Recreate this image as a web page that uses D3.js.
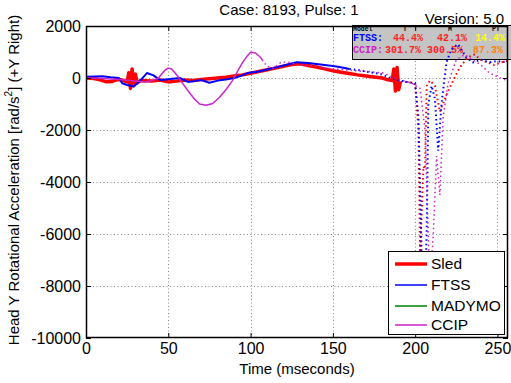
<!DOCTYPE html>
<html>
<head>
<meta charset="utf-8">
<script src="https://cdn.jsdelivr.net/npm/d3@7"></script>
<style>
  body { margin: 0; background: #fff; }
  svg { display: block; font-family: "Liberation Sans", Arial, sans-serif; }
</style>
</head>
<body>
<svg id="chart" width="511" height="383"></svg>
<script>
// ---- data (time in ms, head Y rotational acceleration in rad/s^2) ----
var xTicks = [0, 50, 100, 150, 200, 250];
var yTicks = [-10000, -8000, -6000, -4000, -2000, 0, 2000];

// Sled: solid part, then the dotted tail
var sledSolid = [[0,0],[5,-20],[9,-80],[12,-140],[16,-130],[19,-60],[22,-80],[25,-150],[26,200],[27,-400],[28,350],[29,-300],[30,150],[31,-200],[33,-100],
  [40,-120],[45,-80],[50,-150],[55,-120],[60,-80],[65,-100],[70,-60],[75,-30],[80,0],[85,30],[90,80],[95,120],[100,180],[105,250],[110,320],[115,380],
  [120,450],[125,520],[130,550],[135,480],[140,420],[145,350],[150,280],[155,220],[160,170],[165,120],[170,80],[175,40],[180,0],[183,-60],[186,-100],
  [187,350],[188,-500],[189,400],[190,-450],[191,-150]];
var sledDotted = [[191,-150],[196,-150],[200,-250],[202,-2000],[203,-6800],[205,-3400],[206,-3500],[207,-300],[209,-100],[212,-300],[215,-1300],
  [220,-500],[227,400],[232,800],[236,900],[240,700],[244,600],[248,500],[252,600],[256,650]];

var ftssSolid = [[0,50],[5,60],[10,70],[15,30],[20,0],[22,-200],[25,-270],[29,-330],[33,-100],[37,190],[41,100],[45,-80],[50,-50],[57,0],[62,-150],
  [66,-120],[70,-80],[75,-180],[80,-100],[86,-50],[90,0],[95,100],[98,190],[105,250],[110,330],[115,400],[120,480],[125,560],[128,610],[135,580],
  [140,540],[145,500],[150,460],[154,420],[160,350]];
var ftssDotted = [[160,350],[166,300],[170,250],[175,200],[180,130],[185,0],[190,-100],[195,-150],[200,-200],[202,-1500],[205,-9800],[207,-6000],
  [208,-1000],[210,-300],[212,-800],[214,-2800],[216,-1000],[219,600],[222,1100],[226,1300],[231,800],[235,600],[240,700],[245,600],[250,650],[256,600]];

var madymoSolid = [];   // listed in legend, no trace drawn
var madymoDotted = [];

var ccipSolid = [[0,0],[10,-20],[20,-60],[30,-120],[36,-150],[40,-100],[44,0],[46,150],[48,300],[50,380],[52,350],[54,200],[56,50],[58,-150],
  [60,-320],[63,-580],[66,-820],[69,-1000],[73,-1050],[77,-980],[81,-750],[85,-450],[89,-100],[92,250],[95,580],[98,850],[100,990],[103,960],[106,800],[107,700]];
var ccipDotted = [[107,700],[110,450],[114,380],[118,580],[122,620],[126,560],[130,500],[140,450],[150,350],[160,300],[170,250],[180,200],[190,-50],
  [198,-200],[203,-400],[206,-2000],[209,-8100],[211,-6000],[213,-3000],[215,-4500],[217,-1500],[220,-200],[225,700],[230,900],[235,700],[240,500],
  [245,200],[250,50],[256,-100]];

var legendNames = ["Sled", "FTSS", "MADYMO", "CCIP"];
var legendColors = ["#ff0000", "#0000ff", "#008000", "#cc22cc"];

var tableHeader = ["Model", "T", "M", "P"];
var tableRows = [
  { name: "FTSS:", color: "#0000ff", vals: ["44.4%", "42.1%", "14.4%"], valColors: ["#ff2020", "#ff2020", "#ffff00"] },
  { name: "CCIP:", color: "#cc22cc", vals: ["301.7%", "300.5%", "87.3%"], valColors: ["#ff2020", "#ff2020", "#ff8000"] }
];

// ---- layout ----
var svg = d3.select("#chart");
var pL = 86, pR = 508, pT = 26, pB = 338;

var x = d3.scaleLinear().domain([0, 256.4]).range([pL, pR]);
var y = d3.scaleLinear().domain([-10000, 2000]).range([pB, pT]);

svg.append("defs").append("clipPath").attr("id", "plotClip")
  .append("rect").attr("x", pL).attr("y", pT).attr("width", pR - pL).attr("height", pB - pT);

// grid
var grid = svg.append("g").attr("stroke", "#888").attr("stroke-width", 1).attr("stroke-dasharray", "1,2.5");
grid.selectAll(".gx").data(xTicks.filter(function(d){ return d > 0; })).enter().append("line")
  .attr("x1", function(d){ return Math.round(x(d)) + 0.5; }).attr("x2", function(d){ return Math.round(x(d)) + 0.5; })
  .attr("y1", pT).attr("y2", pB);
grid.selectAll(".gy").data(yTicks.filter(function(d){ return d > -10000 && d < 2000; })).enter().append("line")
  .attr("y1", function(d){ return Math.round(y(d)) + 0.5; }).attr("y2", function(d){ return Math.round(y(d)) + 0.5; })
  .attr("x1", pL).attr("x2", pR);

// model comparison table (drawn beneath the traces)
var tbl = svg.append("g");
tbl.append("rect").attr("x", 352.5).attr("y", 25.5).attr("width", 170).attr("height", 34)
  .attr("fill", "#c4c4c4").attr("stroke", "#000").attr("stroke-width", 1);
var colX = [353, 403, 448, 492];
tbl.selectAll(".th").data(tableHeader).enter().append("text")
  .attr("x", function(d, i){ return colX[i]; }).attr("y", 31)
  .attr("font-family", "'Liberation Mono', 'Courier New', monospace").attr("font-weight", "bold")
  .attr("font-size", 6.5).attr("fill", "#000").text(function(d){ return d; });
var valX = [[393, 437, 475], [385, 427, 473]];
tableRows.forEach(function(r, ri) {
  var by = 40.5 + ri * 12;
  tbl.append("text").attr("x", 353).attr("y", by).attr("fill", r.color)
    .attr("font-family", "'Liberation Mono', 'Courier New', monospace").attr("font-weight", "bold").attr("font-size", 10)
    .text(r.name);
  r.vals.forEach(function(v, vi) {
    tbl.append("text").attr("x", valX[ri][vi]).attr("y", by).attr("fill", r.valColors[vi])
      .attr("font-family", "'Liberation Mono', 'Courier New', monospace").attr("font-weight", "bold").attr("font-size", 10)
      .text(v);
  });
});

// traces
var line = d3.line().x(function(d){ return x(d[0]); }).y(function(d){ return y(d[1]); });
var plot = svg.append("g").attr("clip-path", "url(#plotClip)");
var series = [
  { solid: sledSolid, dotted: sledDotted, color: legendColors[0], w: 3.5 },
  { solid: ftssSolid, dotted: ftssDotted, color: legendColors[1], w: 2 },
  { solid: madymoSolid, dotted: madymoDotted, color: legendColors[2], w: 1.5 },
  { solid: ccipSolid, dotted: ccipDotted, color: legendColors[3], w: 1.5 }
];
series.forEach(function(s) {
  if (s.solid.length) {
    plot.append("path").attr("d", line(s.solid)).attr("fill", "none")
      .attr("stroke", s.color).attr("stroke-width", s.w).attr("stroke-linejoin", "round");
  }
  if (s.dotted.length) {
    plot.append("path").attr("d", line(s.dotted)).attr("fill", "none")
      .attr("stroke", s.color).attr("stroke-width", Math.min(s.w, 2)).attr("stroke-dasharray", "1.5,3");
  }
});

// axes (MATLAB style: inward ticks on all four sides)
var fmt = function(d){ return String(d); };
svg.append("g").attr("transform", "translate(0," + pB + ")")
  .call(d3.axisBottom(x).tickValues(xTicks).tickSize(-5).tickSizeOuter(0).tickPadding(5).tickFormat(fmt))
  .call(function(g){ g.selectAll("text").attr("font-size", 16).attr("fill", "#000").attr("dy", "0.71em"); });
svg.append("g").attr("transform", "translate(0," + pT + ")")
  .call(d3.axisTop(x).tickValues(xTicks).tickSize(-5).tickSizeOuter(0).tickFormat(""));
svg.append("g").attr("transform", "translate(" + pL + ",0)")
  .call(d3.axisLeft(y).tickValues(yTicks).tickSize(-5).tickSizeOuter(0).tickPadding(5).tickFormat(fmt))
  .call(function(g){ g.selectAll("text").attr("font-size", 16).attr("fill", "#000"); });
svg.append("g").attr("transform", "translate(" + pR + ",0)")
  .call(d3.axisRight(y).tickValues(yTicks).tickSize(-5).tickSizeOuter(0).tickFormat(""));
svg.selectAll(".domain").remove();
svg.append("rect").attr("x", pL + 0.5).attr("y", pT + 0.5).attr("width", pR - pL - 1).attr("height", pB - pT - 1)
  .attr("fill", "none").attr("stroke", "#000").attr("stroke-width", 1.5);
svg.selectAll(".tick line").attr("stroke", "#000");

// titles
svg.append("text").attr("x", 289).attr("y", 15).attr("text-anchor", "middle").attr("font-size", 15)
  .text("Case: 8193, Pulse: 1");
svg.append("text").attr("x", 504).attr("y", 24).attr("text-anchor", "end").attr("font-size", 15)
  .text("Version: 5.0");
svg.append("text").attr("x", 297).attr("y", 374).attr("text-anchor", "middle").attr("font-size", 15)
  .text("Time (mseconds)");
var yl = svg.append("text").attr("transform", "translate(19,180) rotate(-90)").attr("text-anchor", "middle").attr("font-size", 15);
yl.append("tspan").text("Head Y Rotational Acceleration [rad/s");
yl.append("tspan").attr("dy", -7).attr("font-size", 10).text("2");
yl.append("tspan").attr("dy", 7).text("] (+Y Right)");

// legend
var lg = svg.append("g");
lg.append("rect").attr("x", 388.5).attr("y", 251.5).attr("width", 116).attr("height", 83)
  .attr("fill", "#fff").attr("stroke", "#000").attr("stroke-width", 1);
var legendY = [264, 285, 306, 325];
legendNames.forEach(function(n, i) {
  lg.append("line").attr("x1", 395).attr("x2", 427).attr("y1", legendY[i]).attr("y2", legendY[i])
    .attr("stroke", legendColors[i]).attr("stroke-width", i === 0 ? 3.5 : 1.5);
  lg.append("text").attr("x", 431).attr("y", legendY[i]).attr("dy", "0.35em").attr("font-size", 15.5).text(n);
});
</script>
</body>
</html>
